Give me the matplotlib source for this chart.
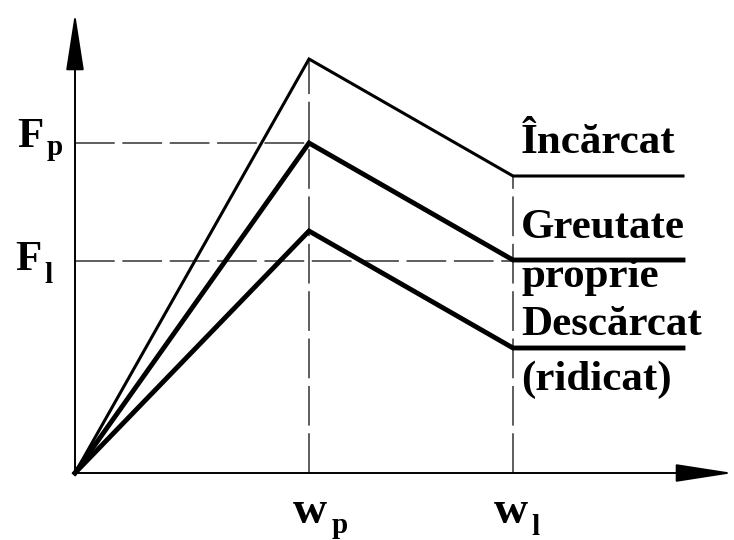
import numpy as np
import matplotlib
matplotlib.use('Agg')
import matplotlib.pyplot as plt

# deformation points (origin, w_p, w_l, end of plateau)
w_pts = [0, 234, 438, 608]
w_p = 234
w_l = 438
# force curves
f_loaded = [0, 414, 297, 297]
f_self = [0, 330, 213, 213]
f_unloaded = [0, 242, 125, 125]
F_p = 330
F_l = 212

curve_labels = ['Încărcat', 'Greutate', 'proprie', 'Descărcat', '(ridicat)']
label_y = [320, 235, 186, 138, 83]

serif = 'Liberation Serif'

fig = plt.figure(figsize=(7.34, 5.40), dpi=100)
ax = fig.add_axes([0, 0, 1, 1])
ax.set_xlim(-75, 659)
ax.set_ylim(-67, 473)
ax.axis('off')

# axes with arrows
arrow = dict(arrowstyle='-|>,head_length=1.8,head_width=0.28', lw=1.4,
             color='black', shrinkA=0, shrinkB=0, mutation_scale=20)
ax.annotate('', xy=(0, 460), xytext=(0, 0), arrowprops=arrow)
ax.annotate('', xy=(658, 0), xytext=(0, 0), arrowprops=arrow)

# dashed guides
dash = dict(color='#333333', lw=1.1, linestyle=(0, (26, 5)))
ax.plot([0, w_p], [F_p, F_p], **dash)
ax.plot([0, w_l], [F_l, F_l], **dash)
ax.plot([w_p, w_p], [0, f_loaded[1]], **dash)
ax.plot([w_l, w_l], [0, f_loaded[2]], **dash)

# curves
ax.plot(w_pts, f_loaded, color='black', lw=2.2, solid_joinstyle='miter')
ax.plot(w_pts, f_self, color='black', lw=3.5, solid_joinstyle='miter')
ax.plot(w_pts, f_unloaded, color='black', lw=3.5, solid_joinstyle='miter')

# curve labels
for txt, y in zip(curve_labels, label_y):
    ax.text(446, y, txt, family=serif, weight='bold', fontsize=31,
            va='baseline', ha='left')

# axis labels
big = dict(family=serif, weight='bold', va='baseline', ha='left')
ax.text(-58, 326, 'F', fontsize=31, **big)
ax.text(-28, 318, 'p', fontsize=21, **big)
ax.text(-60, 203, 'F', fontsize=31, **big)
ax.text(-31, 190, 'l', fontsize=21, **big)
ax.text(218, -50, 'w', fontsize=34, **big)
ax.text(257, -60, 'p', fontsize=21, **big)
ax.text(419, -50, 'w', fontsize=34, **big)
ax.text(456, -62, 'l', fontsize=21, **big)

fig.savefig('out.png', dpi=100)
